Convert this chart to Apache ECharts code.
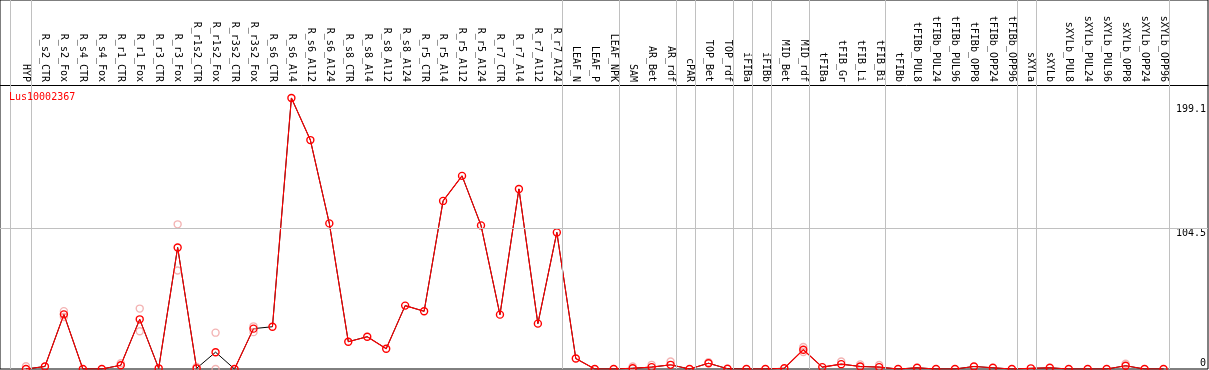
<!DOCTYPE html>
<html>
<head>
<meta charset="utf-8">
<script src="https://cdn.jsdelivr.net/npm/echarts@6/dist/echarts.min.js"></script>
<style>
html,body{margin:0;padding:0;background:#fff;}
#c{width:1209px;height:370px;}
</style>
</head>
<body>
<div id="c"></div>
<script>
const geneName = 'Lus10002367';
const categories = ['HYP','R_s2_CTR','R_s2_Fox','R_s4_CTR','R_s4_Fox','R_r1_CTR','R_r1_Fox','R_r3_CTR','R_r3_Fox','R_r1s2_CTR','R_r1s2_Fox','R_r3s2_CTR','R_r3s2_Fox','R_s6_CTR','R_s6_Al4','R_s6_Al12','R_s6_Al24','R_s8_CTR','R_s8_Al4','R_s8_Al12','R_s8_Al24','R_r5_CTR','R_r5_Al4','R_r5_Al12','R_r5_Al24','R_r7_CTR','R_r7_Al4','R_r7_Al12','R_r7_Al24','LEAF_N','LEAF_P','LEAF_NPK','SAM','AR_Bet','AR_rdf','cPAR','TOP_Bet','TOP_rdf','iFIBa','iFIBb','MID_Bet','MID_rdf','tFIBa','tFIB_Gr','tFIB_Li','tFIB_Bi','tFIBb','tFIBb_PUL8','tFIBb_PUL24','tFIBb_PUL96','tFIBb_OPP8','tFIBb_OPP24','tFIBb_OPP96','sXYLa','sXYLb','sXYLb_PUL8','sXYLb_PUL24','sXYLb_PUL96','sXYLb_OPP8','sXYLb_OPP24','sXYLb_OPP96'];
// mean expression (red line)
const meanValues = [0,1.9,40.6,0,0,2.8,36.9,0.5,90.3,0.5,12.5,0,30,31.4,201.4,170.1,108.2,20.3,24.0,15.1,47.1,42.9,124.9,143.5,106.7,40.4,133.8,33.7,101.5,7.8,0,0,0.6,1.4,3.1,0,4.3,0.2,0,0,0.6,14.3,1.4,3.6,1.9,1.4,0,0.9,0,0,1.9,0.9,0,0.5,0.9,0,0,0,2.4,0,0];
// black line underneath
const blackValues = meanValues.slice();
// red line is not drawn across these category gaps (black shows through)
const redGaps = [9.5,10.5,12.5];
// replicate values (faded circles)
const rep1 = [2,null,43,null,null,4.3,44.9,null,107.5,1.5,27,null,31.7,null,null,null,null,null,null,null,null,null,null,null,null,null,null,null,null,null,null,null,1.9,3.1,5.6,null,5,null,null,null,null,16.3,null,5.6,3.4,3.0,null,null,null,null,null,null,null,null,null,null,null,null,3.9,null,null];
const rep2 = [null,null,38.6,null,null,null,28,null,73.2,null,0,null,27.4,null,null,null,null,null,null,null,null,null,null,null,null,null,null,null,null,null,null,null,null,null,null,null,null,null,null,null,null,12.6,null,null,null,null,null,null,null,null,null,null,null,null,null,null,null,null,null,null,null];
// group boundaries: last index of each sample group
const groupStart = -0.84;
const groupEnds = [0,28,31,34,35,37,38,39,41,45,52,53,60];
const yTickLabels = [0,104.5,199.1];
const gridValue = 104.5;

const FONT = 'DejaVu Sans Mono';
const chart = echarts.init(document.getElementById('c'), null, {renderer:'canvas'});
const idx = categories.map((c,i)=>i);
const pairs = arr => arr.map((v,i)=>[i,v]);
const redData = pairs(meanValues).concat(redGaps.map(g=>[g,null])).sort((a,b)=>a[0]-b[0]);
const repData = [];
rep1.forEach((v,i)=>{ if(v!==null) repData.push([i,v]); });
rep2.forEach((v,i)=>{ if(v!==null) repData.push([i,v]); });
const sepLines = [groupStart].concat(groupEnds.map(e=>e+0.3)).map(v=>({xAxis:v}));
sepLines.push({yAxis:gridValue});

const YMAX = 274.2;
const yAx = (vals, va, pad) => ({type:'value',min:0,max:YMAX,position:'right',axisLine:{show:false},axisTick:{show:false},splitLine:{show:false},
  axisLabel:{inside:true,customValues:vals,verticalAlign:va,padding:pad,margin:2,fontFamily:FONT,fontSize:10,color:'#000',formatter:v=>String(v)}});

chart.setOption({
  animation:false,
  backgroundColor:'#fff',
  title:{text:geneName,left:9,top:92,padding:0,textStyle:{color:'#ff0000',fontSize:10,fontWeight:'normal',fontFamily:FONT}},
  grid:{left:0,right:0,top:0,bottom:1,show:true,borderColor:'#000',borderWidth:1,backgroundColor:'#fff'},
  xAxis:{type:'value',min:-1.37,max:62.345,position:'top',offset:-85,
    axisLine:{show:true,onZero:false,lineStyle:{color:'#000',width:1}},
    axisTick:{show:false},splitLine:{show:false},
    axisLabel:{customValues:idx,formatter:v=>categories[v],rotate:90,margin:3,fontFamily:FONT,fontSize:10,color:'#000'}},
  yAxis:[
    yAx([yTickLabels[1]],'top',[0,0,0,0]),
    yAx([yTickLabels[2]],'top',[3,0,0,0]),
    yAx([yTickLabels[0]],'bottom',[0,0,1,0])
  ],
  series:[
    {type:'line',data:[],silent:true,z:0,
     markLine:{silent:true,symbol:'none',label:{show:false},lineStyle:{color:'#c0c0c0',type:'solid',width:1},data:sepLines}},
    {type:'line',data:pairs(blackValues),symbol:'none',lineStyle:{color:'#000',width:1},z:1},
    {type:'scatter',data:repData,symbol:'circle',symbolSize:7,itemStyle:{color:'rgba(0,0,0,0)',borderColor:'#f0a0a0',borderWidth:1.4},z:2},
    {type:'line',data:redData,connectNulls:false,symbol:'circle',symbolSize:7,showSymbol:true,
     itemStyle:{color:'rgba(0,0,0,0)',borderColor:'#ff0000',borderWidth:1.4},lineStyle:{color:'#ff0000',width:1.1},z:3}
  ]
});
</script>
</body>
</html>
